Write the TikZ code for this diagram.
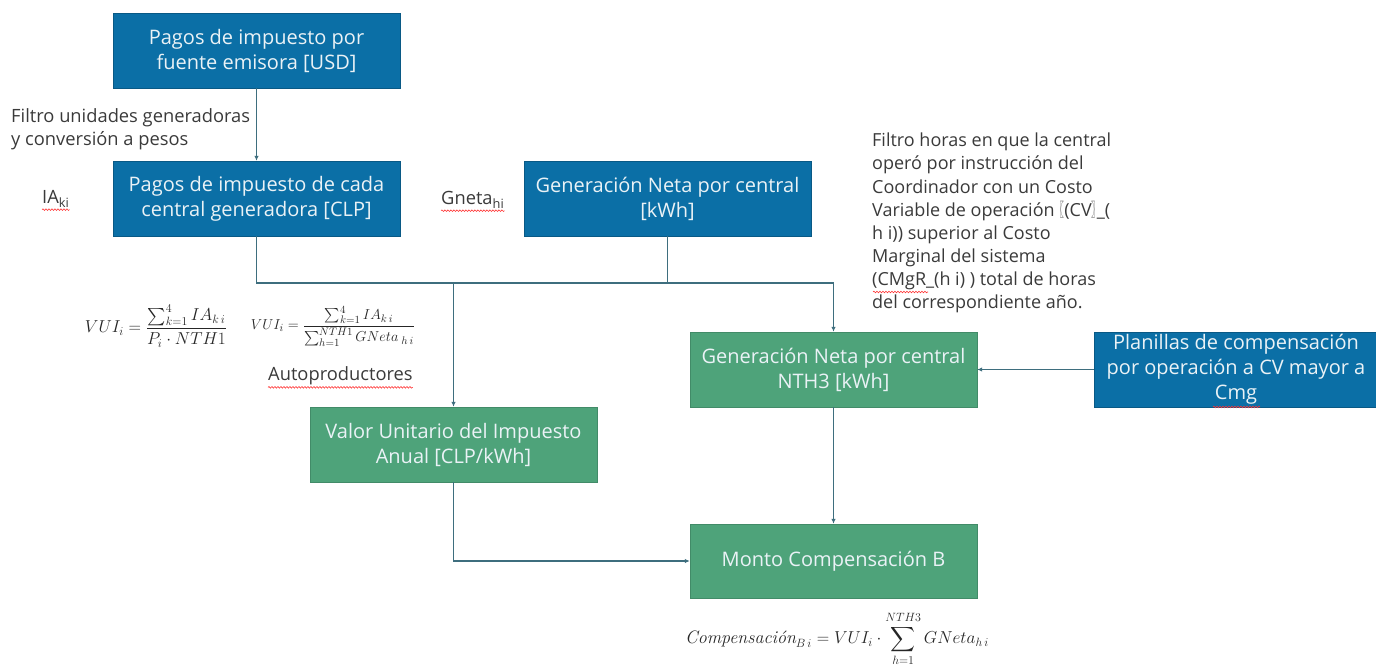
\documentclass[tikz,border=0pt]{standalone}
\usepackage{amsmath}
\usepackage{fontspec}
\setsansfont{Open Sans}
\newfontfamily\cjkf{Noto Sans CJK SC}
\usetikzlibrary{arrows.meta,decorations.pathmorphing}
\definecolor{bblue}{HTML}{0B6FA6}
\definecolor{bgreen}{HTML}{4EA37A}
\definecolor{conncol}{HTML}{3E6E7E}
\definecolor{txtcol}{HTML}{3A3A3A}
\definecolor{frmcol}{HTML}{262626}
\definecolor{boxtxt}{HTML}{EAF2F6}
\newcommand{\lbr}{\makebox[5pt][r]{\cjkf\scalebox{0.55}[1]{〖}}}
\newcommand{\rbr}{\makebox[5pt][l]{\cjkf\scalebox{0.55}[1]{〗}}}
\begin{document}
\begin{tikzpicture}[x=1pt,y=-1pt,
  boxbase/.style={rectangle, minimum width=287pt, minimum height=75pt, inner sep=2pt,
    align=center, text=boxtxt, font=\sffamily\fontsize{20}{25}\selectfont},
  bluebox/.style={boxbase, fill=bblue, draw=bblue!80!black, line width=0.4pt},
  greenbox/.style={boxbase, fill=bgreen, draw=bgreen!85!black, line width=0.4pt},
  conn/.style={draw=conncol, line width=1.2pt},
  arr/.style={conn, -{Latex[length=5pt,width=4.5pt]}},
  lbl/.style={align=left, text=txtcol, inner sep=0pt, font=\sffamily\fontsize{18.3}{23}\selectfont},
  frm/.style={text=frmcol, inner sep=0pt},
  squig/.style={draw=red!80, line width=0.6pt, decorate, decoration={snake, amplitude=0.8pt, segment length=3pt}}
]
\useasboundingbox (0,0) rectangle (1376,666);

% boxes
\node[bluebox] (b1) at (256.5,50.5) {Pagos de impuesto por\\fuente emisora [USD]};
\node[bluebox] (b2) at (256.5,198.5) {Pagos de impuesto de cada\\central generadora [CLP]};
\node[bluebox] (b3) at (667.5,198.5) {Generación Neta por central\\{[kWh]}};
\node[greenbox] (b4) at (833.5,369.5) {Generación Neta por central\\NTH3 [kWh]};
\node[bluebox, minimum width=284pt] (b5) at (1236,369.5) {Planillas de compensación\\por operación a CV mayor a\\Cmg};
\node[greenbox] (b6) at (453.5,444.5) {Valor Unitario del Impuesto\\Anual [CLP/kWh]};
\node[greenbox, minimum height=74pt] (b7) at (833.5,561) {Monto Compensación B};

% connectors
\coordinate (bus) at (0,283);
\draw[arr] (b1.south) -- (b2.north);
\draw[arr] (b2.south) |- (b4.north |- bus) -- (b4.north);
\draw[conn] (b3.south) -- (b3.south |- bus);
\draw[arr] (b6.north |- bus) -- (b6.north);
\draw[arr] (b4.south) -- (b7.north);
\draw[arr] (b6.south) |- (b7.west);
\draw[arr] (b5.west) -- (b4.east);

% labels
\node[lbl, anchor=north west] (filtro1) at (11,108) {Filtro unidades generadoras\\y conversión a pesos};
\node[lbl, anchor=west] (ia) at (42,199) {IA\textsubscript{ki}};
\node[lbl, anchor=west] (gneta) at (441,200) {Gneta\textsubscript{hi}};
\node[lbl, anchor=north west, font=\sffamily\fontsize{18}{23.1}\selectfont] (filtro2) at (872,133)
  {Filtro horas en que la central\\
   operó por instrucción del\\
   Coordinador con un Costo\\
   Variable de operación \lbr(CV\rbr\_(\\
   h i)) superior al Costo\\
   Marginal del sistema\\
   (CMgR\_(h i) ) total de horas\\
   del correspondiente año.};
\node[lbl, anchor=west] (autop) at (268,376) {Autoproductores};

% formulas
\node[frm, font=\fontsize{16.5}{18}\selectfont] (f1) at (156,326) {$VUI_i=\dfrac{\sum_{k=1}^{4} IA_{k\,i}}{P_i\cdot NTH1}$};
\node[frm, font=\fontsize{15.6}{18}\selectfont] (f2) at (333,326) {$VUI_i=\dfrac{\sum_{k=1}^{4} IA_{k\,i}}{\sum_{h=1}^{NTH1} GNeta_{\;h\,i}}$};
\node[frm, font=\fontsize{18}{20}\selectfont] (f3) at (837,639) {$\textit{Compensación}_{B\,i}=VUI_i\cdot\displaystyle\sum_{h=1}^{NTH3} GNeta_{h\,i}$};

% spell-check squiggles
\draw[squig] ([yshift=-2pt]ia.south west) -- ([yshift=-2pt]ia.south east);
\draw[squig] ([yshift=-2pt]gneta.south west) -- ([yshift=-2pt]gneta.south east);
\draw[squig] ([yshift=-2pt]autop.south west) -- ([yshift=-2pt]autop.south east);
\draw[squig] (873,292) -- (928,292);
\draw[squig] (1213,407) -- (1260,407);
\end{tikzpicture}
\end{document}
